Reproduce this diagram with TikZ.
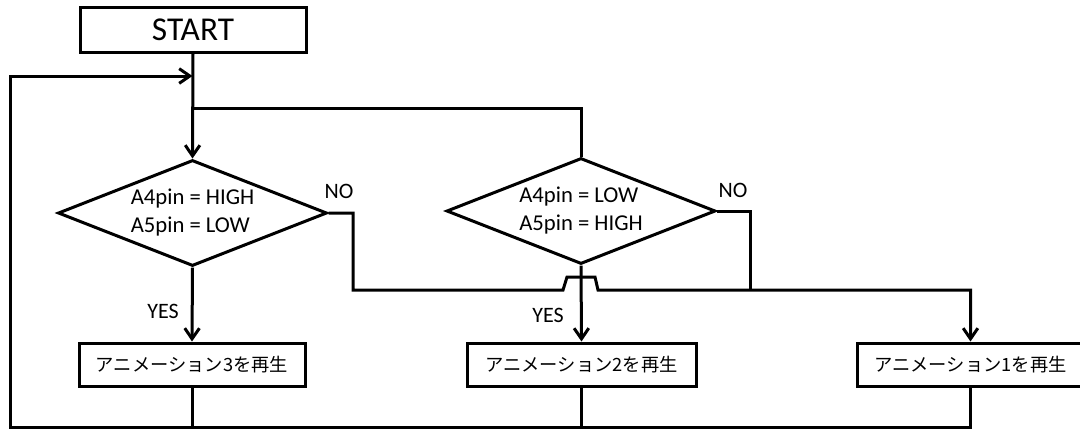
\documentclass[tikz,border=0pt]{standalone}
\usepackage{fontspec}
\setmainfont{Carlito}
\newfontfamily\jp{Noto Sans CJK JP}
\usetikzlibrary{shapes.geometric,arrows.meta}
\begin{document}
\begin{tikzpicture}[x=0.75pt,y=-0.75pt,line width=2.25pt,
  every node/.style={inner sep=0pt},
  txt/.style={font=\fontsize{16.5}{21}\selectfont},
  startbox/.style={draw,rectangle,minimum width=169.5pt,minimum height=33.75pt,
    font=\fontsize{25}{28}\selectfont},
  actbox/.style={draw,rectangle,minimum width=169.5pt,minimum height=32.25pt,
    font=\jp\fontsize{13.7}{16}\selectfont},
  decision/.style={draw,diamond,shape aspect=2.5,minimum width=201.75pt,
    minimum height=79.5pt,align=left,font=\fontsize{17}{21}\selectfont},
  flow/.style={-{Straight Barb[length=8pt,width=11pt]}}]
\useasboundingbox (0,0) rectangle (1080,430);

% blocks
\node[startbox] (start) at (193,29.5) {START};
\node[decision] (d1) at (192.5,213) {A4pin = HIGH\\A5pin = LOW};
\node[decision] (d2) at (581,211) {A4pin = LOW\\A5pin = HIGH};
\node[actbox] (a3) at (192,364.5) {アニメーション3を再生};
\node[actbox,minimum width=171.75pt] (a2) at (581.5,364.5) {アニメーション2を再生};
\node[actbox] (a1) at (970.5,364.5) {アニメーション1を再生};

% labels
\node[txt] (no1) at (339,191) {NO};
\node[txt] (no2) at (733,190) {NO};
\node[txt] (yes1) at (163,311) {YES};
\node[txt] (yes2) at (548,315) {YES};

% helper points
\coordinate (merge) at (192.5,76);
\coordinate (split) at (192.5,108);
\coordinate (loopL) at (10,427);

% main path into the first test
\draw[flow] (start.south) -- (d1.north);
\draw (split) -| (d2.north);

% YES branches
\draw[flow] (d1.south) -- (a3.north);
\draw[flow] (d2.south) -- (a2.north);

% NO branches, hopping over the second YES line
\draw[flow] (d1.east) -- (353,213) -- (353,290) -- (563,290) -- (567,277)
  -- (595,277) -- (598,290) -- (970.5,290) -- (a1.north);
\draw (d2.east) -- (750,211) -- (750,290);

% return loop
\draw (a3.south) -- (192,427);
\draw (a2.south) -- (581.5,427);
\draw[flow] (a1.south) -- (970.5,427) -- (loopL) -- (10,76) -- (merge);
\end{tikzpicture}
\end{document}
